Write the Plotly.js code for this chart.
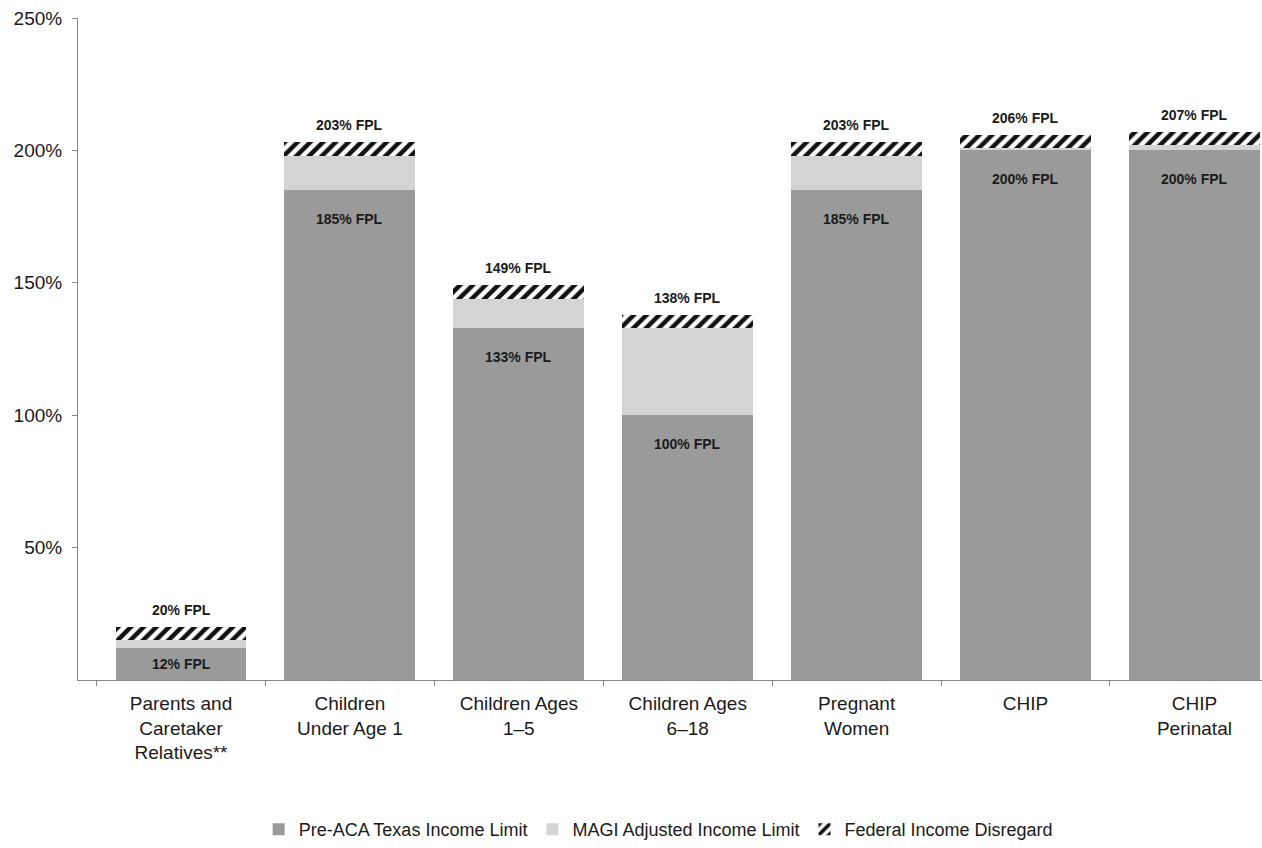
<!DOCTYPE html>
<html>
<head>
<meta charset="utf-8">
<script src="https://cdn.plot.ly/plotly-3.0.1.min.js"></script>
<style>html,body{margin:0;padding:0;background:#fff;}#chart{width:1262px;height:848px;}</style>
</head>
<body>
<div id="chart"></div>
<script>
const categories = ["Parents and<br>Caretaker<br>Relatives**", "Children<br>Under Age 1", "Children Ages<br>1–5", "Children Ages<br>6–18", "Pregnant<br>Women", "CHIP", "CHIP<br>Perinatal"];
const preACA = [12, 185, 133, 100, 185, 200, 200];
const magiAdded = [3, 13, 11, 33, 13, 1, 2];
const disregard = [5, 5, 5, 5, 5, 5, 5];
const totals = [20, 203, 149, 138, 203, 206, 207];
const yTickVals = [50, 100, 150, 200, 250];
const yTickText = ["50%", "100%", "150%", "200%", "250%"];

const font = "Liberation Sans, Arial, sans-serif";

const traces = [
  {
    type: "bar", name: "Pre-ACA Texas Income Limit", x: categories, y: preACA,
    marker: {color: "#9a9a9a", line: {width: 0}}, hoverinfo: "skip"
  },
  {
    type: "bar", name: "MAGI Adjusted Income Limit", x: categories, y: magiAdded,
    marker: {color: "#d4d4d4", line: {width: 0}}, hoverinfo: "skip"
  },
  {
    type: "bar", name: "Federal Income Disregard", x: categories, y: disregard,
    marker: {color: "#ffffff", line: {width: 0},
      pattern: {shape: "/", fgcolor: "#111", bgcolor: "#ffffff", size: 9, solidity: 0.5}},
    hoverinfo: "skip"
  }
];

const pxPerUnit = 664 / 250;
const annotations = categories.map((c, i) => ({
  x: c, y: totals[i], xref: "x", yref: "y", yanchor: "bottom", yshift: 7,
  text: "<b>" + totals[i] + "% FPL</b>", showarrow: false,
  font: {family: font, size: 14, color: "#1a1a1a"}
})).concat(categories.map((c, i) => ({
  x: c, y: preACA[i], xref: "x", yref: "y", yanchor: "middle",
  yshift: -Math.min(29, preACA[i] * pxPerUnit / 2),
  text: "<b>" + preACA[i] + "% FPL</b>", showarrow: false,
  font: {family: font, size: 14, color: "#1a1a1a"}
})));

const layout = {
  width: 1262, height: 848,
  margin: {l: 78, r: 0, t: 18, b: 166},
  paper_bgcolor: "#fff", plot_bgcolor: "#fff",
  barmode: "stack", bargap: 0.225,
  showlegend: true,
  legend: {orientation: "h", x: 0.49, xanchor: "center", y: -0.226, yanchor: "middle",
    font: {family: font, size: 18, color: "#1a1a1a"}, itemwidth: 30, traceorder: "normal"},
  xaxis: {
    range: [-0.61, 6.4], showgrid: false, zeroline: false,
    showline: true, linecolor: "#888", linewidth: 1,
    ticks: "outside", tickson: "boundaries", ticklen: 5, tickcolor: "#888",
    ticklabelstandoff: 6,
    tickfont: {family: font, size: 19, color: "#1a1a1a"}, fixedrange: true
  },
  yaxis: {
    range: [0, 250], showgrid: false, zeroline: false,
    showline: true, linecolor: "#888", linewidth: 1,
    ticks: "outside", ticklen: 5, tickcolor: "#888",
    ticklabelstandoff: 6,
    tickvals: yTickVals, ticktext: yTickText,
    tickfont: {family: font, size: 19, color: "#1a1a1a"}, fixedrange: true
  },
  annotations: annotations
};

Plotly.newPlot("chart", traces, layout, {displayModeBar: false, staticPlot: true});
</script>
</body>
</html>
